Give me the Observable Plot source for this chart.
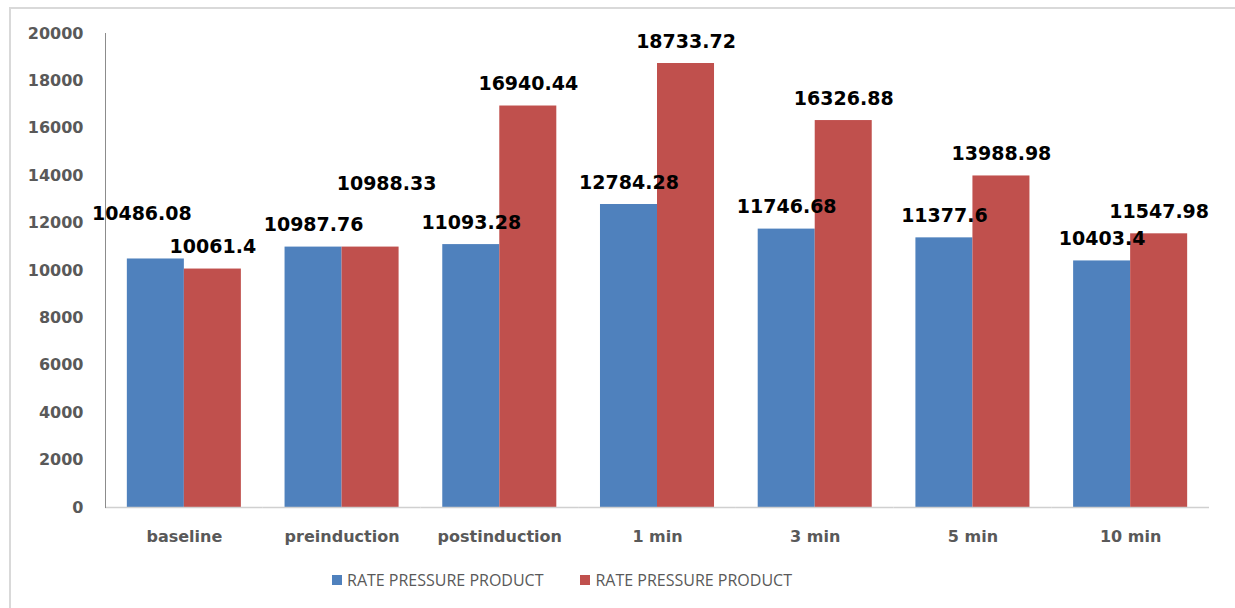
<!DOCTYPE html>
<html>
<head>
<meta charset="utf-8">
<script src="https://cdn.jsdelivr.net/npm/d3@7"></script>
<script src="https://cdn.jsdelivr.net/npm/@observablehq/plot@0.6"></script>
<style>
  html, body { margin: 0; padding: 0; background: #fff; overflow: hidden; width: 1235px; height: 608px; }
  #border { position: absolute; left: 9px; top: 7px; width: 1400px; height: 800px; border: 2px solid #d9d9d9; box-sizing: border-box; }
  #chart { position: absolute; left: 0; top: 0; }
  #legend { position: absolute; left: 332px; top: 569px; height: 22px; display: flex; align-items: center;
            font-family: "Open Sans", sans-serif; font-size: 16px; color: #595959; }
  .item { display: flex; align-items: center; margin-right: 37px; }
  .swatch { width: 10px; height: 10px; margin-right: 5px; }
</style>
</head>
<body>
<div id="border"></div>
<div id="chart"></div>
<div id="legend"></div>
<script>
// Rate pressure product at each time point, two series
const categories = ["baseline", "preinduction", "postinduction", "1 min", "3 min", "5 min", "10 min"];
const seriesIds = ["s1", "s2"];
const seriesNames = ["RATE PRESSURE PRODUCT", "RATE PRESSURE PRODUCT"];
const seriesColors = ["#4F81BD", "#C0504D"];
const series1 = [10486.08, 10987.76, 11093.28, 12784.28, 11746.68, 11377.6, 10403.4];
const series2 = [10061.4, 10988.33, 16940.44, 18733.72, 16326.88, 13988.98, 11547.98];
const yTicks = [0, 2000, 4000, 6000, 8000, 10000, 12000, 14000, 16000, 18000, 20000];

const rows = [];
categories.forEach((cat, i) => {
  rows.push({cat, sid: "s1", value: series1[i]});
  rows.push({cat, sid: "s2", value: series2[i]});
});

// a couple of value labels sit away from their default spot above the bar
const isShifted = (d) => (d.cat === "baseline" && d.sid === "s1") || (d.cat === "preinduction" && d.sid === "s2");

const labelStyle = {
  fx: "cat", x: "sid", y: "value", text: (d) => String(d.value),
  lineAnchor: "middle", fill: "#000", fontWeight: "bold", fontSize: 19, fontFamily: "DejaVu Sans"
};

const chart = Plot.plot({
  width: 1235,
  height: 552,
  marginLeft: 105,
  marginRight: 26,
  marginTop: 33,
  marginBottom: 45,
  style: {fontFamily: "DejaVu Sans", fontSize: "16px", fontWeight: "bold", color: "#595959", background: "transparent"},
  fx: {domain: categories, paddingInner: 0, paddingOuter: 0, round: false, label: null},
  x: {domain: seriesIds, paddingInner: 0, paddingOuter: 0.383, round: false, axis: null},
  y: {domain: [0, 20000], label: null},
  color: {domain: seriesIds, range: seriesColors},
  marks: [
    Plot.barY(rows, {fx: "cat", x: "sid", y: "value", fill: "sid"}),
    Plot.ruleY([0], {stroke: "#d0d0d0", strokeWidth: 1.5}),
    Plot.frame({anchor: "left", facetAnchor: "left", stroke: "#8c8c8c"}),
    Plot.axisY({ticks: yTicks, tickSize: 0, tickPadding: 22, tickFormat: d3.format("d"), label: null}),
    Plot.axisFx({anchor: "bottom", tickSize: 0, tickPadding: 23, label: null}),
    Plot.text(rows.filter((d) => !isShifted(d)), {...labelStyle, dy: -22}),
    Plot.text(rows.filter((d) => d.cat === "baseline" && d.sid === "s1"), {...labelStyle, dx: -14, dy: -45}),
    Plot.text(rows.filter((d) => d.cat === "preinduction" && d.sid === "s2"), {...labelStyle, dx: 16, dy: -63})
  ]
});
document.getElementById("chart").appendChild(chart);

// legend below the chart
const legend = document.getElementById("legend");
seriesIds.forEach((id, i) => {
  const item = document.createElement("div");
  item.className = "item";
  const sw = document.createElement("div");
  sw.className = "swatch";
  sw.style.background = seriesColors[i];
  const label = document.createElement("span");
  label.textContent = seriesNames[i];
  item.appendChild(sw);
  item.appendChild(label);
  legend.appendChild(item);
});
</script>
</body>
</html>
